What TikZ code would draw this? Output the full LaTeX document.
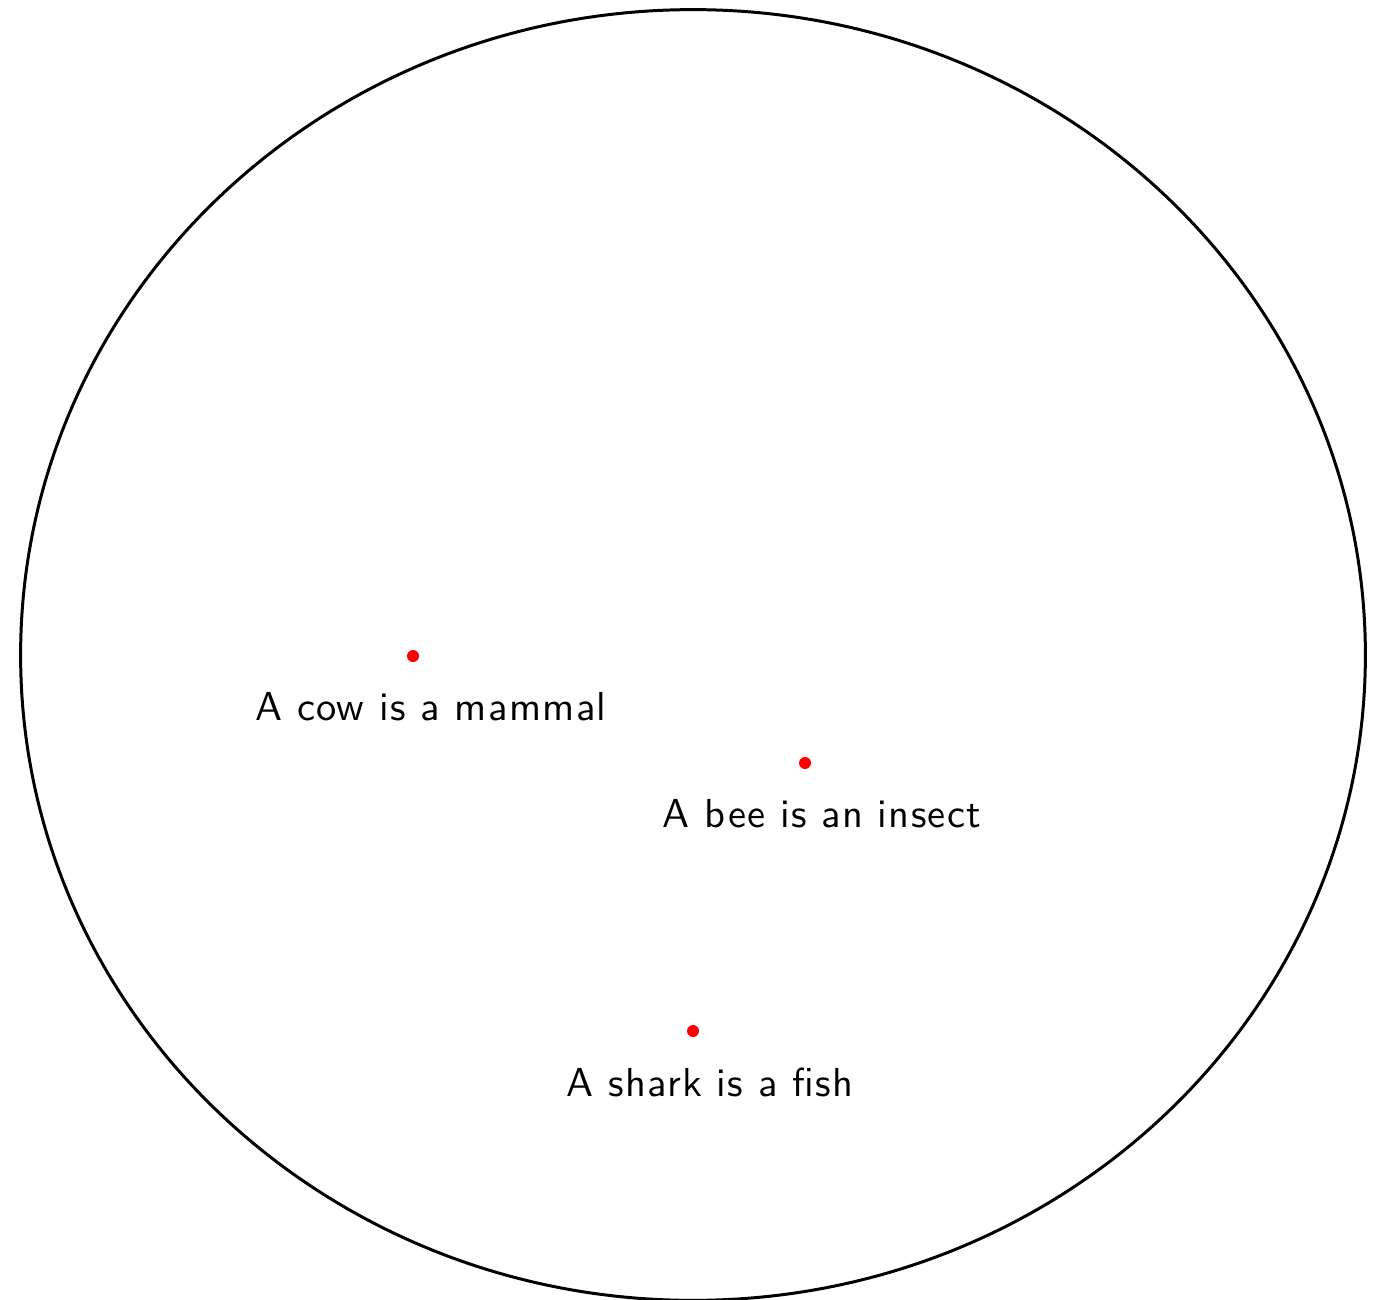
\documentclass[tikz,border=0pt]{standalone}
\usepackage{fontspec}
\newfontfamily\lblfont{lmsans10-regular.otf}[LetterSpace=3.3]
\begin{document}
\begin{tikzpicture}[x=0.01cm,y=-0.01cm,
  dotpt/.style={circle,fill=red,inner sep=0pt,minimum size=0.12cm},
  lbl/.style={anchor=base,inner sep=0pt,font=\lblfont\fontsize{11.5}{14}\selectfont}]
\useasboundingbox (0,0) rectangle (1375,1300);
\draw[line width=0.85pt] (693,655) ellipse [x radius=6.72cm, y radius=6.45cm];
\node[dotpt] (cow) at (413,656) {};
\node[dotpt] (bee) at (805,763) {};
\node[dotpt] (shark) at (693,1031) {};
\node[lbl] (cowl) at (431,720) {A cow is a mammal};
\node[lbl] (beel) at (822,827) {A bee is an insect};
\node[lbl] (sharkl) at (710,1096) {A shark is a fish};
\end{tikzpicture}
\end{document}
